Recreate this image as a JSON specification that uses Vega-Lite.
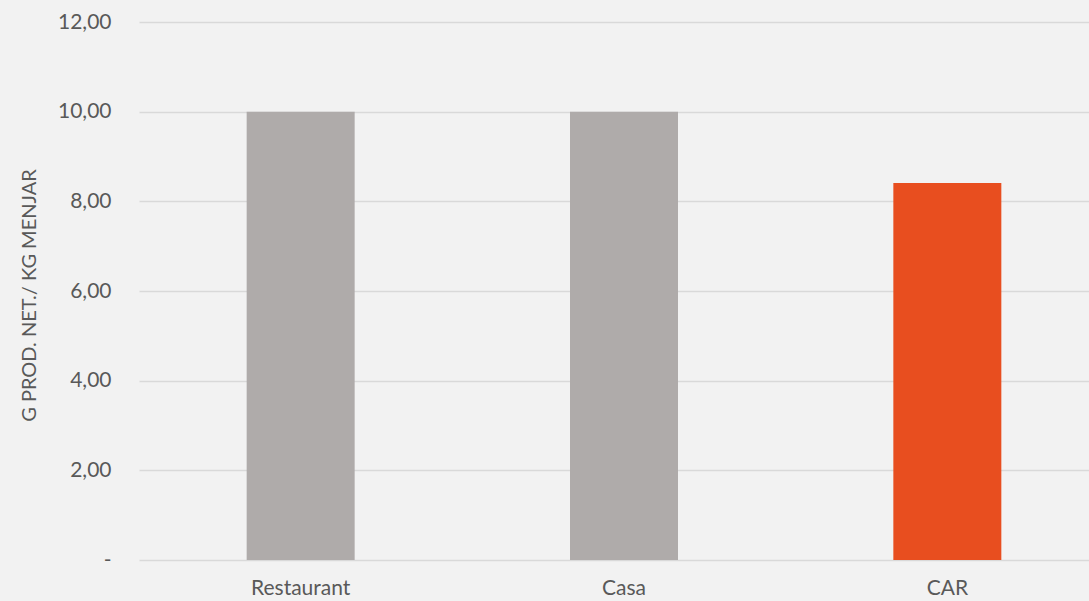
{
  "$schema": "https://vega.github.io/schema/vega-lite/v6.json",
  "autosize": {"type": "none"},
  "width": 950,
  "height": 538,
  "padding": {"left": 139, "top": 22, "right": 0, "bottom": 41},
  "background": "#f2f2f2",
  "config": {
    "view": {"stroke": null},
    "font": "Lato",
    "axis": {"labelColor": "#595959", "titleColor": "#595959", "labelFont": "Lato", "titleFont": "Lato"}
  },
  "data": {
    "values": [
      {"lloc": "Restaurant", "valor": 10.0, "tipus": "ref"},
      {"lloc": "Casa", "valor": 10.0, "tipus": "ref"},
      {"lloc": "CAR", "valor": 8.41, "tipus": "car"}
    ]
  },
  "mark": {"type": "bar"},
  "encoding": {
    "x": {
      "field": "lloc",
      "type": "nominal",
      "sort": null,
      "scale": {"range": [0, 970], "paddingInner": 0.666, "paddingOuter": 0.333},
      "axis": {
        "title": null,
        "labelAngle": 0,
        "domain": false,
        "ticks": false,
        "labelFontSize": 21,
        "labelPadding": 17
      }
    },
    "y": {
      "field": "valor",
      "type": "quantitative",
      "scale": {"domain": [0, 12], "nice": false},
      "axis": {
        "title": "G PROD. NET./ KG MENJAR",
        "titleFontSize": 20,
        "titleFontWeight": "normal",
        "titleAngle": -90,
        "titleX": -110,
        "titleY": 273,
        "titleAlign": "center",
        "titleBaseline": "middle",
        "values": [0, 2, 4, 6, 8, 10, 12],
        "labelExpr": "datum.value == 0 ? '-\u00a0\u00a0' : replace(format(datum.value, '.2f'), '.', ',')",
        "labelFontSize": 21,
        "labelPadding": 28,
        "domain": false,
        "ticks": false,
        "grid": true,
        "gridColor": "#d9d9d9",
        "gridWidth": 1.5
      }
    },
    "color": {
      "field": "tipus",
      "type": "nominal",
      "scale": {"domain": ["ref", "car"], "range": ["#afabaa", "#e84e1f"]},
      "legend": null
    }
  }
}
